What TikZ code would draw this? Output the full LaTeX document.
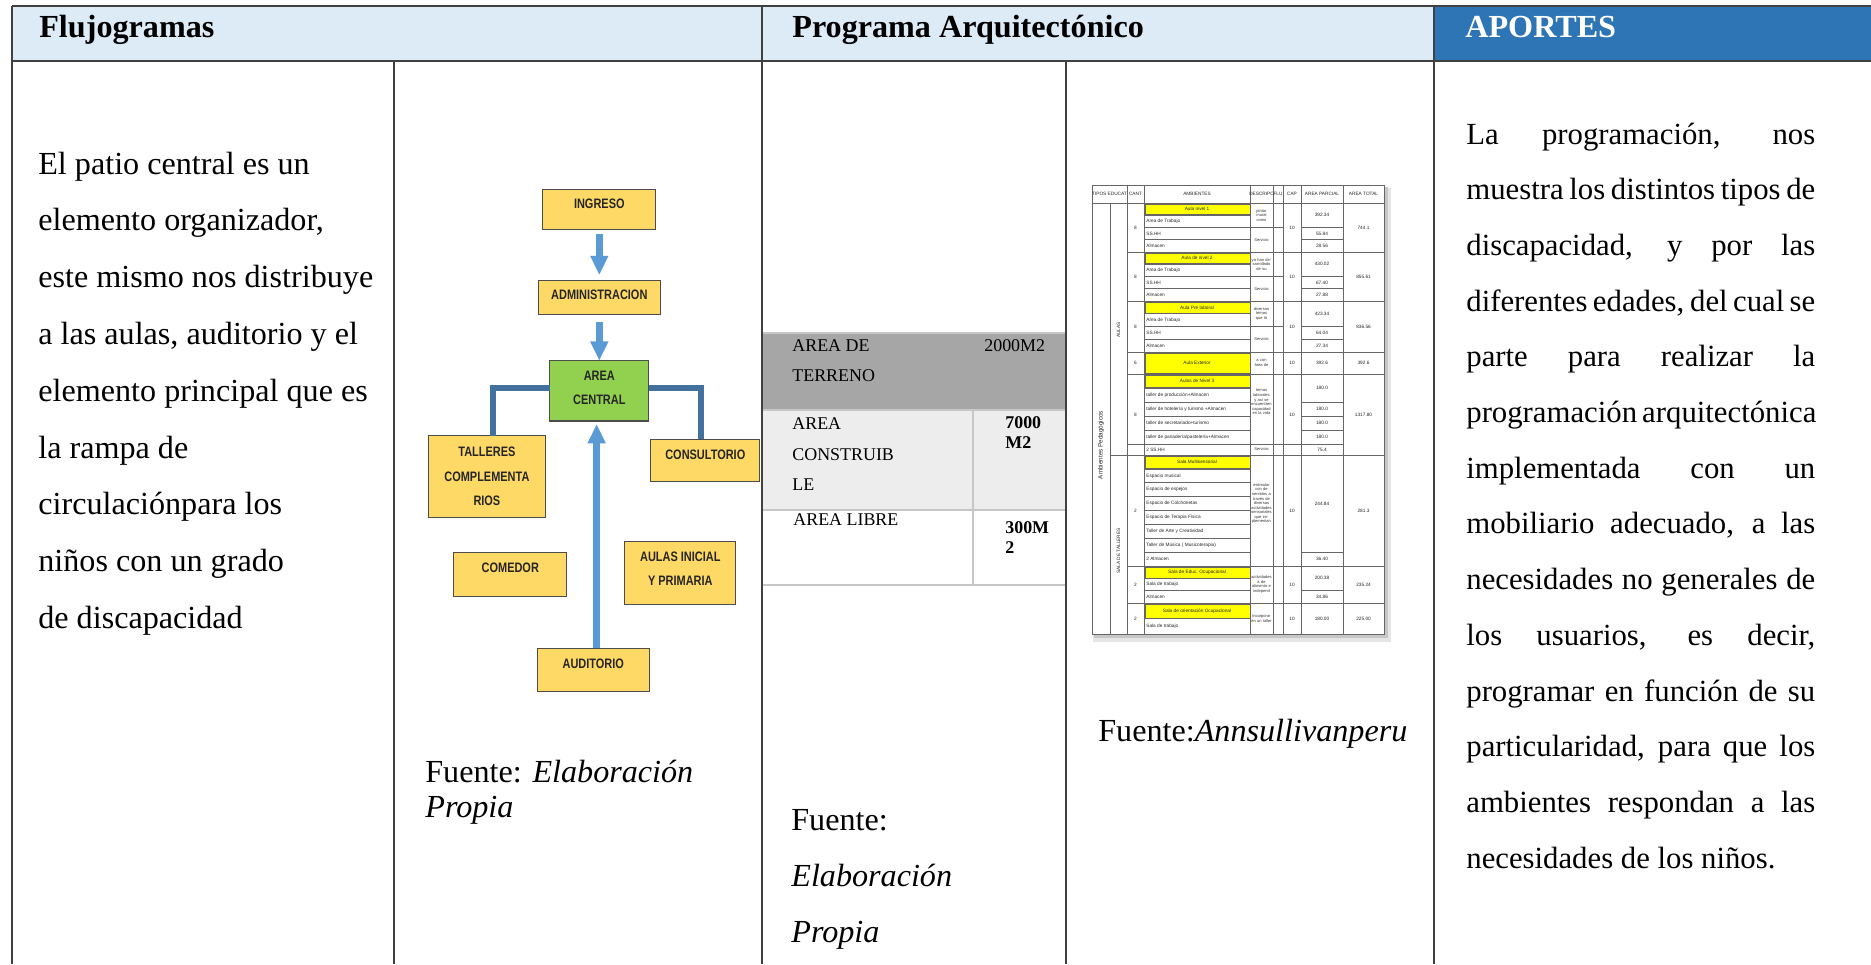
\documentclass[tikz,border=0pt]{standalone}
\usepackage{fontspec}
\setmainfont{Liberation Serif}
\setsansfont{Liberation Sans}
\newfontfamily\flowfont[FakeStretch=0.8]{Liberation Sans}
\usetikzlibrary{positioning,arrows.meta,calc}

\definecolor{head-blue}{RGB}{221,235,247}
\definecolor{aporte-blue}{RGB}{46,117,182}
\definecolor{box-yellow}{RGB}{255,217,102}
\definecolor{box-green}{RGB}{146,208,80}
\definecolor{flow-blue}{RGB}{91,155,213}
\definecolor{link-blue}{RGB}{65,113,156}
\definecolor{cell-dark}{RGB}{166,166,166}
\definecolor{cell-light}{RGB}{237,237,237}
\definecolor{tab-yellow}{RGB}{255,255,0}

% rows of the AMBIENTES column: id, top, row height, names (first one is yellow)
\newcommand{\ambrows}[4]{%
  \foreach \nm [count=\k from 0] in {#4} {
    \pgfmathsetmacro{\ytop}{#2+\k*#3}
    \pgfmathsetmacro{\ymid}{#2+(\k+0.5)*#3}
    \ifnum\k=0
      \filldraw[yelcell] (1145,{\ytop+1}) rectangle (1250,{\ytop+#3-0.5});
      \node[tinytxt] (#1-amb-\k) at (1197,\ymid) {\nm};
    \else
      \draw[tabline] (1144,\ytop) -- (1250,\ytop);
      \node[tinytxt, anchor=west] (#1-amb-\k) at (1146,\ymid) {\nm};
    \fi
  }}
% one group: id, top, bottom, cant, total
\newcommand{\tabgroup}[5]{%
  \node[tinytxt] (#1-cant) at (1135.5,{(#2+#3)/2}) {#4};
  \node[tinytxt] (#1-cap) at (1292,{(#2+#3)/2}) {10};
  \node[tinytxt] (#1-total) at (1363.5,{(#2+#3)/2}) {#5};}

\begin{document}
\begin{tikzpicture}[
    x=0.02cm, y=-0.02cm,
    frameline/.style={draw=black!75, line width=1pt},
    headtxt/.style={font=\bfseries\fontsize{18.3}{22}\selectfont, anchor=base west, inner sep=0},
    bodytxt/.style={font=\fontsize{18.3}{22}\selectfont, anchor=base west, inner sep=0},
    aportetxt/.style={font=\fontsize{17.5}{22}\selectfont, anchor=base west, inner sep=0},
    flowbox/.style={rectangle, draw=black!70, fill=box-yellow, line width=0.6pt, outer sep=0, inner sep=0},
    flowtxt/.style={font=\flowfont\bfseries\fontsize{7.8}{13.9}\selectfont, text=black!85, align=center, anchor=north, inner sep=0},
    flowarrow/.style={-{Triangle[width=9.6pt,length=11pt]}, line width=4pt, draw=flow-blue},
    linkline/.style={line width=3.4pt, draw=link-blue},
    areatxt/.style={font=\fontsize{10.2}{12}\selectfont, anchor=base west, inner sep=0},
    cellline/.style={draw=black!22, line width=0.6pt},
    tabline/.style={draw=black!60, line width=0.3pt},
    tinytxt/.style={font=\sffamily\fontsize{2.7}{3.2}\selectfont, text=black!85, inner sep=0},
    desctxt/.style={font=\sffamily\fontsize{2.3}{2.6}\selectfont, text=black!80, inner sep=0, text width=0.42cm, align=center},
    yelcell/.style={fill=tab-yellow, draw=black!60, line width=0.3pt}
]
\useasboundingbox (0,0) rectangle (1871,964);
\fill[white] (0,0) rectangle (1871,964);

% Header row
\fill[head-blue] (12,6) rectangle (1434,61);
\fill[aporte-blue] (1434,6) rectangle (1871,61);
\node[headtxt] (flujo-head) at (39,37.5) {Flujogramas};
\node[headtxt] (prog-head) at (792,37.5) {Programa Arquitectónico};
\node[headtxt, text=white] (aporte-head) at (1465,37.5) {APORTES};

% Left text
\foreach \lin [count=\i from 0] in {El patio central es un, {elemento organizador,}, este mismo nos distribuye,
    {a las aulas, auditorio y el}, elemento principal que es, la rampa de, circulaciónpara los,
    niños con un grado, de discapacidad}
  \node[bodytxt] (lt-\i) at (38,{174+56.8*\i}) {\lin};

% Flow diagram
\node[flowbox, minimum width=2.266cm, minimum height=0.806cm] (ingreso) at (599.3,209.2) {};
\node[flowbox, minimum width=2.446cm, minimum height=0.68cm, below=1.014cm of ingreso] (administracion) {};
\node[flowbox, fill=box-green, minimum width=1.986cm, minimum height=1.206cm, below=0.934cm of administracion] (central) {};
\node[flowbox, minimum width=2.354cm, minimum height=1.64cm] (talleres) at (486.9,476.7) {};
\node[flowbox, minimum width=2.186cm, minimum height=0.848cm] (consultorio) at (705.3,460.5) {};
\node[flowbox, minimum width=2.254cm, minimum height=0.88cm] (comedor) at (510.3,574.7) {};
\node[flowbox, minimum width=2.214cm, minimum height=1.254cm] (aulas) at (680.3,572.7) {};
\node[flowbox, minimum width=2.24cm, minimum height=0.868cm] (auditorio) at (593.3,670) {};

\node[flowtxt] (ingreso-txt) at ([yshift=-0.2cm]ingreso.north) {INGRESO};
\node[flowtxt] (administracion-txt) at ([yshift=-0.2cm]administracion.north) {ADMINISTRACION};
\node[flowtxt] (central-txt) at ([yshift=-0.2cm]central.north) {AREA\\CENTRAL};
\node[flowtxt] (talleres-txt) at ([yshift=-0.22cm]talleres.north) {TALLERES\\COMPLEMENTA\\RIOS};
\node[flowtxt] (consultorio-txt) at ([yshift=-0.2cm]consultorio.north) {CONSULTORIO};
\node[flowtxt] (comedor-txt) at ([yshift=-0.2cm]comedor.north) {COMEDOR};
\node[flowtxt] (aulas-txt) at ([yshift=-0.2cm]aulas.north) {AULAS INICIAL\\Y PRIMARIA};
\node[flowtxt] (auditorio-txt) at ([yshift=-0.2cm]auditorio.north) {AUDITORIO};

\draw[flowarrow, shorten <=2.8pt, shorten >=2.8pt] (ingreso) -- (administracion);
\draw[flowarrow, shorten <=4.3pt] (administracion) -- (central);
\draw[flowarrow, shorten >=1.7pt] ([xshift=1.9pt]auditorio.north) -- ([xshift=1.9pt]auditorio.north |- central.south);
\draw[linkline] ([yshift=0.05cm]central.west) -| ([xshift=0.12cm]talleres.north);
\draw[linkline] ([yshift=0.05cm]central.east) -| ([xshift=-0.086cm]consultorio.north);

\node[bodytxt] (fuente1-a) at (425,782) {Fuente: \textit{Elaboración}};
\node[bodytxt] (fuente1-b) at (425,817) {\textit{Propia}};

% Areas table
\fill[cell-dark] (762,333) rectangle (1066,410);
\fill[cell-light] (762,410) rectangle (1066,510);
\foreach \ry in {333,410,510,585} \draw[cellline] (762,\ry) -- (1066,\ry);
\draw[cellline] (973,410) -- (973,585);
\node[areatxt] (terreno-a) at (792,351) {AREA DE};
\node[areatxt] (terreno-b) at (792,381) {TERRENO};
\node[areatxt] (terreno-v) at (984,351) {2000M2};
\node[areatxt] (constr-a) at (792,429) {AREA};
\node[areatxt] (constr-b) at (792,460) {CONSTRUIB};
\node[areatxt] (constr-c) at (792,490) {LE};
\node[areatxt, font=\bfseries\fontsize{10.2}{12}\selectfont] (constr-v1) at (1005,428) {7000};
\node[areatxt, font=\bfseries\fontsize{10.2}{12}\selectfont] (constr-v2) at (1005,448) {M2};
\node[areatxt] (libre-a) at (793,525) {AREA LIBRE};
\node[areatxt, font=\bfseries\fontsize{10.2}{12}\selectfont] (libre-v1) at (1005,533) {300M};
\node[areatxt, font=\bfseries\fontsize{10.2}{12}\selectfont] (libre-v2) at (1005,553) {2};

\node[bodytxt] (fuente2-a) at (791,830) {Fuente:};
\node[bodytxt] (fuente2-b) at (791,886) {\textit{Elaboración}};
\node[bodytxt] (fuente2-c) at (791,942) {\textit{Propia}};

% Program table (picture)
\fill[black!10] (1093,188) rectangle (1391,642);
\fill[black!22] (1094,187) rectangle (1388,638);
\filldraw[fill=white, draw=black!60, line width=0.4pt] (1092,185) rectangle (1384,634);
\foreach \cx in {1127,1144,1250,1273,1283,1301,1343} \draw[tabline] (\cx,185) -- (\cx,634);
\draw[tabline] (1110,203) -- (1110,634);
\draw[tabline] (1092,203) -- (1384,203);
\draw[tabline] (1110,455) -- (1384,455);
\foreach \gy in {252,301,352,374,566,603} \draw[tabline] (1127,\gy) -- (1384,\gy);
\draw[tabline] (1127,444) -- (1343,444);
\foreach \ly in {227.5,239.75,276.5,288.75,326.5,339.25,402,416,430,552.1,590.7} \draw[tabline] (1301,\ly) -- (1343,\ly);
\foreach \ly in {227.5,276.5,326.5} \draw[tabline] (1250,\ly) -- (1283,\ly);

\foreach \hx/\hdr [count=\j] in {1109.5/TIPOS EDUCAT, 1135.5/CANT, 1197/AMBIENTES, 1261.5/DESCRIPC,
    1278/FLU, 1292/CAP, 1322/AREA PARCIAL, 1363.5/AREA TOTAL}
  \node[tinytxt] (th-\j) at (\hx,194) {\hdr};

\ambrows{ga}{203}{12.25}{Aula nivel 1, Area de Trabajo, SS.HH, Almacen}
\ambrows{gb}{252}{12.25}{Aula de nivel 2, Area de Trabajo, SS.HH, Almacen}
\ambrows{gc}{301}{12.75}{Aula Pre laboral, Area de Trabajo, SS.HH, Almacen}
\ambrows{gd}{352}{22}{Aula Exterior}
\ambrows{ge}{374}{14}{Aulas de Nivel 3, taller de producción+Almacen, taller de hotelería y turismo +Almacen,
    taller de secretariado+turismo, taller de panadería/pastelería+Almacen}
\ambrows{gf}{455}{13.875}{Sala Multisensorial, Espacio musical, Espacio de espejos, Espacio de Colchonetas,
    Espacio de Terapia Física, Taller de Arte y Creatividad, Taller de Música ( Musicoterapia), 2 Almacen}
\ambrows{gg}{566}{12.33}{Sala de Educ. Ocupacional, Sala de trabajo, Almacen}
\ambrows{gh}{603}{15.5}{Sala de orientación Ocupacional, Sala de trabajo}
\node[tinytxt, anchor=west] (ss-amb) at (1146,449.5) {2 SS.HH};

\tabgroup{ga}{203}{252}{8}{744.1}
\tabgroup{gb}{252}{301}{8}{855.61}
\tabgroup{gc}{301}{352}{8}{836.56}
\tabgroup{gd}{352}{374}{6}{392.6}
\tabgroup{ge}{374}{455}{8}{1317.80}
\tabgroup{gf}{455}{566}{2}{281.3}
\tabgroup{gg}{566}{603}{2}{235.24}
\tabgroup{gh}{603}{634}{2}{225.00}

\foreach \py/\pv [count=\j] in {215.25/392.34, 233.6/55.84, 245.9/28.56, 264.25/430.02, 282.6/67.40, 294.9/27.88,
    313.75/423.34, 332.9/64.04, 345.6/27.34, 363/392.6, 388/180.0, 409/180.0, 423/180.0, 437/180.0,
    449.5/75.4, 503.6/244.84, 559/36.40, 578.3/200.38, 596.8/34.86, 618.5/180.00}
  \node[tinytxt] (par-\j) at (1322,\py) {\pv};

\foreach \dy/\dtext [count=\j] in {215.25/pintar mural como, 239.75/Servicio, 264.25/ya han desarrollado de su,
    288.75/Servicio, 313.75/diversos temas que lo, 339.25/Servicio, 363/a con área de,
    402/temas laborales y así se encuentren capacidad en la vida, 449.5/Servicio,
    503.6/estimular con de sentidos a través de diversas actividades sensoriales que implementan,
    584.5/actividades a de alimento e independ, 618.5/incorporar en un taller}
  \node[desctxt] (desc-\j) at (1261.5,\dy) {\dtext};

\node[tinytxt, font=\sffamily\fontsize{3.6}{4}\selectfont, rotate=90] (tipo-lbl) at (1101,445) {Ambientes Pedagógicos};
\node[tinytxt, rotate=90] (aulas-lbl) at (1118.5,330) {AULAS};
\node[tinytxt, rotate=90] (salas-lbl) at (1118.5,551) {SALA DE TALLERES};

\node[bodytxt] (fuente3) at (1098,741) {Fuente:\textit{Annsullivanperu}};

% Aportes text
\foreach \lin [count=\i from 0] in {{La programación, nos}, muestra los distintos tipos de, {discapacidad, y por las},
    {diferentes edades, del cual se}, parte para realizar la, programación arquitectónica,
    implementada con un, {mobiliario adecuado, a las}, necesidades no generales de,
    {los usuarios, es decir,}, programar en función de su, {particularidad, para que los},
    ambientes respondan a las}
  \node[aportetxt] (ap-\i) at (1466,{144+55.7*\i}) {\makebox[6.98cm][s]{\lin}};
\node[aportetxt] (ap-13) at (1466,{144+55.7*13}) {necesidades de los niños.};

% Frame lines
\draw[frameline] (12,6) -- (1871,6);
\draw[frameline] (12,61) -- (1871,61);
\foreach \cx in {12,762,1434} \draw[frameline] (\cx,6) -- (\cx,964);
\foreach \cx in {394,1066} \draw[frameline] (\cx,61) -- (\cx,964);

\end{tikzpicture}
\end{document}
